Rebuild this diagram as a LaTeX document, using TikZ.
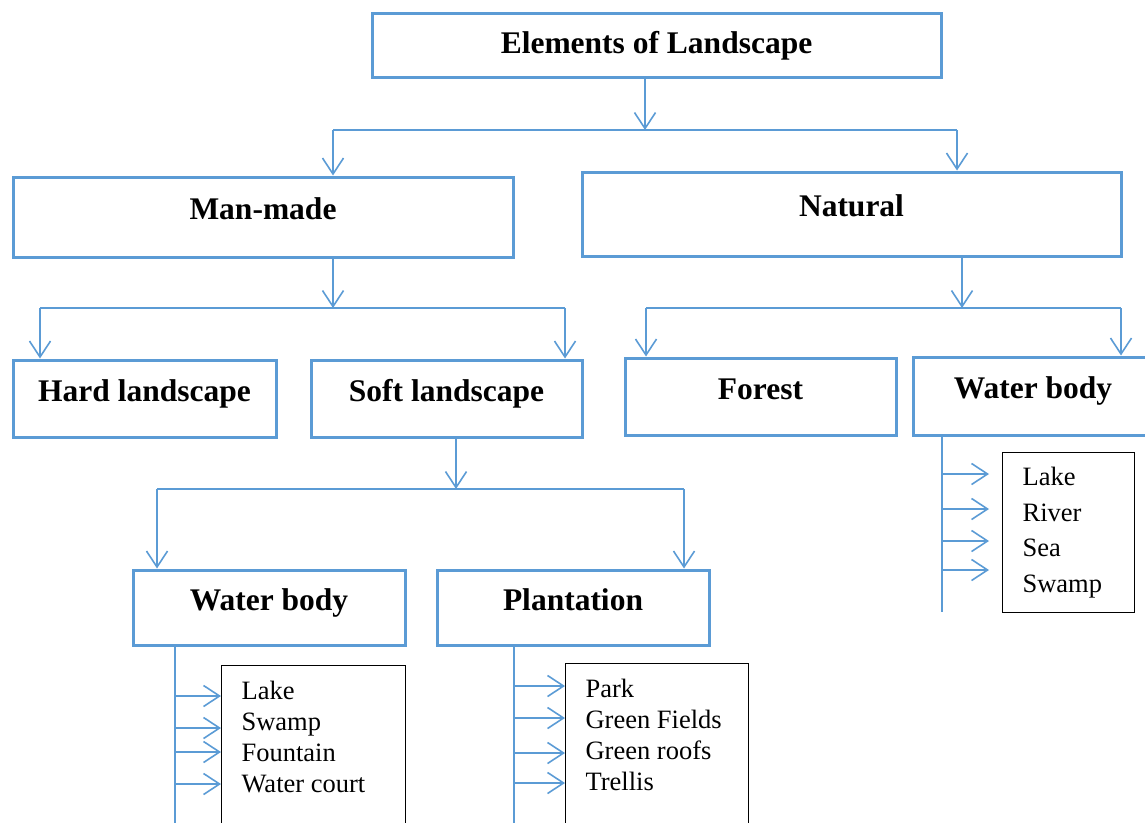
\documentclass[tikz,border=0pt]{standalone}
\usepackage{fontspec}
\setmainfont{Liberation Serif}
\usetikzlibrary{arrows.meta}
\definecolor{lblue}{RGB}{91,155,213}
\tikzset{box/.style={draw=lblue, line width=3pt, inner sep=0pt, font=\bfseries\fontsize{31.5}{36}\selectfont, text height=22pt, text depth=17pt},
	listbox/.style={draw=black, line width=1.2pt, anchor=north west, inner xsep=20pt, inner ysep=16pt, font=\fontsize{26.5}{31}\selectfont},
	link/.style={draw=lblue, line width=1.6pt},
	arr/.style={-{Straight Barb[length=16pt,width=21pt]}}}

\begin{document}
\begin{tikzpicture}[x=1pt, y=-1pt]
				\useasboundingbox (0,0) rectangle (1145,822);

				\node[box, minimum width=569pt, minimum height=64pt, text height=28pt, text depth=11pt] (top) at (656.5,45) {Elements of Landscape};
				\node[box, minimum width=500pt, minimum height=80pt] (mm) at (263,217) {Man-made};
				\node[box, minimum width=539pt, minimum height=84pt] (nat) at (851.5,214) {Natural};
				\node[box, minimum width=263pt, minimum height=77pt] (hard) at (144.5,398.5) {Hard landscape};
				\node[box, minimum width=271pt, minimum height=77pt] (soft) at (446.5,398.5) {Soft landscape};
				\node[box, minimum width=271pt, minimum height=77pt] (forest) at (760.5,396.5) {Forest};
				\node[box, minimum width=240pt, minimum height=78pt] (wbr) at (1033,396) {Water body};
				\node[box, minimum width=272pt, minimum height=75pt] (wbl) at (269,607.5) {Water body};
				\node[box, minimum width=272pt, minimum height=75pt] (plant) at (573,607.5) {Plantation};

				\node[listbox] (lst1) at (221,665) {\parbox[c][138pt][t]{144pt}{Lake\\Swamp\\Fountain\\Water court}};
				\node[listbox] (lst2) at (565,663) {\parbox[c][138pt][t]{143pt}{Park\\Green Fields\\Green roofs\\Trellis}};
				\node[listbox, inner ysep=15pt, font=\fontsize{26.5}{35.5}\selectfont] (lst3) at (1002,452) {\parbox[c][130pt][t]{92pt}{Lake\\River\\Sea\\Swamp}};

				% junctions and bars
				\coordinate (j1) at (645,130);
				\coordinate (b1l) at (333,130);
				\coordinate (b1r) at (957,130);
				\coordinate (j2) at (333,308);
				\coordinate (b2l) at (40,308);
				\coordinate (b2r) at (565,308);
				\coordinate (j3) at (962,308);
				\coordinate (b3l) at (646,308);
				\coordinate (b3r) at (1121,308);
				\coordinate (j4) at (456,489);
				\coordinate (b4l) at (157,489);
				\coordinate (b4r) at (684,489);

				\path[link]
				(b1l) -- (b1r)
				(b2l) -- (b2r)
				(b3l) -- (b3r)
				(b4l) -- (b4r)
				;
				\draw[link, arr] (top.south -| j1) -- (j1);
				\draw[link, arr] (b1l) -- (b1l |- mm.north);
				\draw[link, arr] (b1r) -- (b1r |- nat.north);
				\draw[link, arr] (mm.south -| j2) -- (j2);
				\draw[link, arr] (b2l) -- (b2l |- hard.north);
				\draw[link, arr] (b2r) -- (b2r |- soft.north);
				\draw[link, arr] (nat.south -| j3) -- (j3);
				\draw[link, arr] (b3l) -- (b3l |- forest.north);
				\draw[link, arr] (b3r) -- (b3r |- wbr.north);
				\draw[link, arr] (soft.south -| j4) -- (j4);
				\draw[link, arr] (b4l) -- (b4l |- wbl.north);
				\draw[link, arr] (b4r) -- (b4r |- plant.north);

				% lists
				\coordinate (v1) at (175,830);
				\coordinate (v2) at (514,830);
				\coordinate (v3) at (942,612);
				\draw[link] (wbl.south -| v1) -- (v1);
				\draw[link] (plant.south -| v2) -- (v2);
				\draw[link] (wbr.south -| v3) -- (v3);
				\foreach \y [count=\i] in {696,728,752,784} {
					\coordinate (la\i) at (175,\y);
					\draw[link, arr] (la\i) -- (la\i -| lst1.west);
				}
				\foreach \y [count=\i] in {686,718,753,783} {
					\coordinate (ma\i) at (514,\y);
					\draw[link, arr] (ma\i) -- (ma\i -| lst2.west);
				}
				\foreach \y [count=\i] in {474,509,541,570} {
					\coordinate (ra\i) at (942,\y);
					\coordinate (rt\i) at (989,\y);
					\draw[link, arr] (ra\i) -- (rt\i);
				}
\end{tikzpicture}
\end{document}
